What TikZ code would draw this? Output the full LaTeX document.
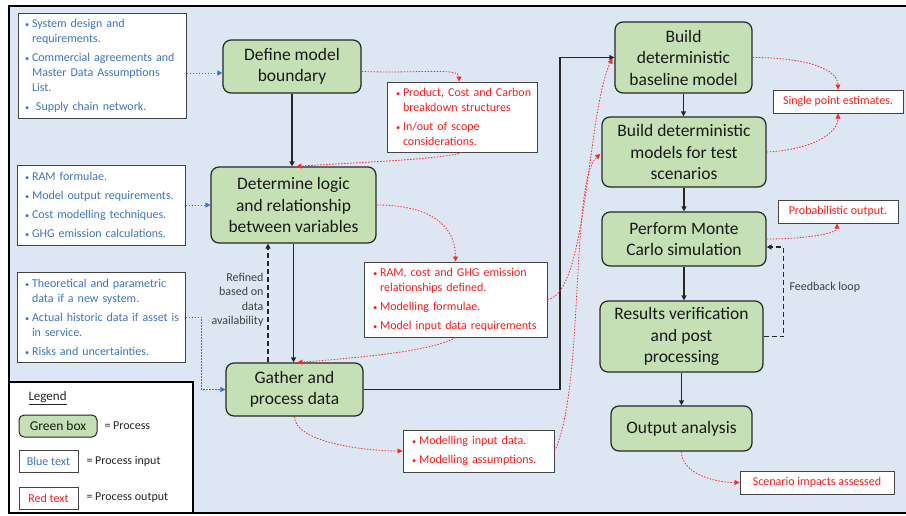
\documentclass[tikz,border=0pt]{standalone}
\usepackage{fontspec}
\setmainfont{Carlito}
\usetikzlibrary{arrows.meta,calc}
\definecolor{bgblue}{HTML}{DDE7F4}
\definecolor{procgreen}{HTML}{C5E0B4}
\definecolor{inblue}{HTML}{3F74C4}
\definecolor{outred}{HTML}{FF1A1A}
\definecolor{boxedge}{HTML}{444444}
% bulleted first line and indented continuation line, never broken
\newcommand{\bitem}[1]{\makebox[7pt][l]{\scalebox{0.7}{•}}\mbox{#1}}
\newcommand{\bcont}[1]{\hspace*{7pt}\mbox{#1}}
\tikzset{
  proc/.style={draw=black!85, line width=1.2pt, fill=procgreen, rounded corners=8pt,
    align=center, font=\fontsize{17.5}{21.5}\selectfont, text=black!90, inner sep=0pt},
  inbox/.style={draw=boxedge, line width=1pt, fill=white, text=inblue, align=left,
    font=\fontsize{12}{15}\selectfont, inner ysep=0pt},
  outbox/.style={inbox, text=outred},
  tagbox/.style={draw=boxedge, line width=1pt, fill=white, text=outred, align=center,
    font=\fontsize{12}{15}\selectfont, inner sep=0pt},
  tip/.style={-{Triangle[length=5pt,width=5pt]}},
  flow/.style={draw=black!85, line width=1.2pt, tip},
  feed/.style={flow, dash pattern=on 5pt off 3pt, line width=1.4pt},
  inlink/.style={draw=inblue, line width=0.8pt, dash pattern=on 1.5pt off 1.5pt, tip},
  outlink/.style={draw=red!85, line width=0.8pt, dash pattern=on 1.5pt off 1.5pt, tip},
  note/.style={font=\fontsize{12}{14.5}\selectfont, text=black!75},
  legtext/.style={font=\fontsize{12}{14}\selectfont, text=black!85, anchor=west},
}
\begin{document}
\begin{tikzpicture}[x=1pt,y=-1pt]
\useasboundingbox (0,0) rectangle (906,515);
\fill[white] (0,0) rectangle (906,515);
% page panel
\fill[bgblue] (9,6) rectangle (906,513);
\draw[line width=2.4pt] (910,6) -- (9,6) -- (9,513) -- (910,513);

% process steps
\node[proc, minimum width=138pt, minimum height=53pt] (def) at (292,66.5) {Define model\\boundary};
\node[proc, minimum width=165pt, minimum height=76pt] (det) at (293.5,205) {Determine logic\\and relationship\\between variables};
\node[proc, minimum width=137pt, minimum height=53pt] (gat) at (294.5,389.5) {Gather and\\process data};
\node[proc, minimum width=137pt, minimum height=71pt] (base) at (683.5,57.5) {Build\\deterministic\\baseline model};
\node[proc, minimum width=164pt, minimum height=70pt] (test) at (684,152) {Build deterministic\\models for test\\scenarios};
\node[proc, minimum width=164pt, minimum height=54pt] (mc) at (684,239) {Perform Monte\\Carlo simulation};
\node[proc, minimum width=163pt, minimum height=71pt] (res) at (681.5,336.5) {Results verification\\and post\\processing};
\node[proc, minimum width=141pt, minimum height=45pt] (out) at (681.5,428.5) {Output analysis};

% inputs
\node[inbox, inner xsep=7pt, text width=154pt, minimum height=105pt] (in1) at (102,65.5)
  {\bitem{System design and}\\ \bcont{requirements.}\\[4pt]
   \bitem{Commercial agreements and}\\ \bcont{Master Data Assumptions}\\ \bcont{List.}\\[4pt]
   \bitem{\ Supply chain network.}};
\node[inbox, inner xsep=8pt, text width=152pt, minimum height=80pt] (in2) at (101,205)
  {\bitem{RAM formulae.}\\[4pt]
   \bitem{Model output requirements.}\\[4pt]
   \bitem{Cost modelling techniques.}\\[4pt]
   \bitem{GHG emission calculations.}};
\node[inbox, inner xsep=8pt, text width=152pt, minimum height=90pt] (in3) at (101,317)
  {\bitem{Theoretical and parametric}\\ \bcont{data if a new system.}\\[4pt]
   \bitem{Actual historic data if asset is}\\ \bcont{in service.}\\[4pt]
   \bitem{Risks and uncertainties.}};

% outputs
\node[outbox, inner xsep=9pt, text width=132pt, minimum height=70pt] (prod) at (462,117)
  {\bitem{Product, Cost and Carbon}\\ \bcont{breakdown structures}\\[4pt]
   \bitem{In/out of scope}\\ \bcont{considerations.}};
\node[outbox, inner xsep=9pt, text width=165pt, minimum height=75pt] (ram) at (455.5,299.5)
  {\bitem{RAM, cost and GHG emission}\\ \bcont{relationships defined.}\\[4pt]
   \bitem{Modelling formulae.}\\[4pt]
   \bitem{Model input data requirements}};
\node[outbox, inner xsep=9pt, text width=133pt, minimum height=42pt] (mod) at (478.5,451)
  {\bitem{Modelling input data.}\\[4pt]
   \bitem{Modelling assumptions.}};
\node[tagbox, minimum width=130pt, minimum height=23pt] (sp) at (838,101.5) {Single point estimates.};
\node[tagbox, minimum width=120pt, minimum height=23pt] (prob) at (838,211.5) {Probabilistic output.};
\node[tagbox, minimum width=154pt, minimum height=23pt] (sc) at (817,482.5) {Scenario impacts assessed};

% main flow
\draw[flow] (def.south) -- (def.south |- det.north);
\draw[flow] (det.south) -- (det.south |- gat.north);
\coordinate (rx) at (268,0);
\draw[feed] (rx |- gat.north) -- (rx |- det.south);
\node[note, align=right, anchor=east] (refn) at (267,300) {Refined\\based on\\data\\availability};
\coordinate (jx) at (560,0);
\draw[flow] (gat.east) -| (jx |- base.west) -- (base.west);
\draw[flow] (base.south) -- (base.south |- test.north);
\draw[flow] (test.south) -- (test.south |- mc.north);
\draw[flow] (mc.south) -- (mc.south |- res.north);
\draw[flow] (res.south) -- (res.south |- out.north);
\draw[feed] (res.east) -- ++(20,0) |- ($(mc.east)+(0,8)$);
\node[note, anchor=west] (fbl) at (786,287) {Feedback loop};

% inputs to steps
\draw[inlink] (in1.east |- 0,73) -- (def.west |- 0,73);
\draw[inlink] (in2.east) -- (det.west);
\draw[inlink] (in3.east) -| ($(gat.west)+(-24,0)$) -- (gat.west);

% steps to outputs
\draw[outlink] ($(def.east)+(0,5)$) .. controls +(60,2) and +(0,-14) .. ($(prod.north)+(-3,0)$);
\draw[outlink] (prod.south) .. controls +(-20,7) and +(60,-4) .. ($(det.north)+(3,0)$);
\draw[outlink] (det.east) .. controls +(55,0) and +(0,-35) .. (ram.north);
\draw[outlink] (ram.south) .. controls +(-20,12) and +(80,-6) .. ($(gat.north)+(3,0)$);
\draw[outlink] (gat.south) .. controls +(0,25) and +(-40,0) .. (mod.west);
\draw[outlink] (ram.east) .. controls +(40,-5) and +(-25,50) .. ($(base.west)+(-2,1)$);
\draw[outlink] (mod.east) .. controls +(30,-60) and +(-30,25) .. ($(test.west)+(-1,2)$);
\draw[outlink] (base.east) .. controls +(55,0) and +(0,-20) .. (sp.north);
\draw[outlink] (test.east) .. controls +(45,-2) and +(0,20) .. (sp.south);
\draw[outlink] (mc.east) .. controls +(40,0) and +(0,10) .. ($(prob.south)+(-1,0)$);
\draw[outlink] (out.south) .. controls +(0,22) and +(-25,0) .. (sc.west);

% legend
\node[draw, line width=2.4pt, fill=white, minimum width=184pt, minimum height=131pt, inner sep=0pt] (leg) at (101,447.5) {};
\node[font=\fontsize{13}{15}\selectfont, text=black!85, anchor=west] (legt) at (25,398) {\underline{Legend}};
\node[proc, font=\fontsize{13.5}{15}\selectfont, rounded corners=5pt, line width=1pt,
  minimum width=78pt, minimum height=22pt] (lg) at (58,426) {Green box};
\node[legtext] (lgt) at (101,426) {= Process};
\node[draw=boxedge, line width=1pt, fill=white, text=inblue, font=\fontsize{12}{14}\selectfont,
  minimum width=59pt, minimum height=22pt, inner sep=0pt] (lb) at (48.5,461) {Blue text};
\node[legtext] (lbt) at (83,461) {= Process input};
\node[draw=boxedge, line width=1pt, fill=white, text=outred, font=\fontsize{12}{14}\selectfont,
  minimum width=59pt, minimum height=22pt, inner sep=0pt] (lr) at (48.5,498) {Red text};
\node[legtext] (lrt) at (83,498) {= Process output};
\end{tikzpicture}
\end{document}
